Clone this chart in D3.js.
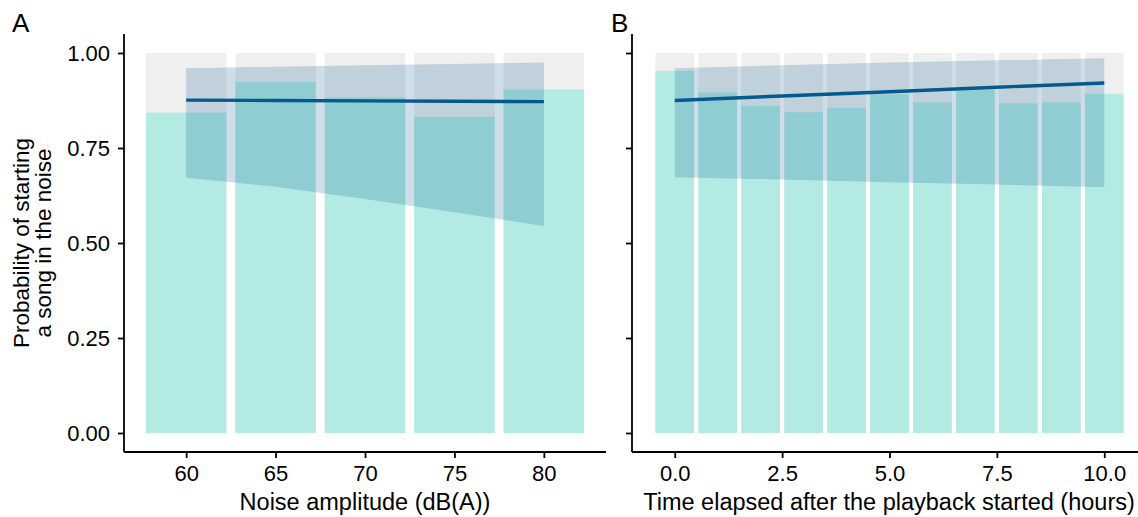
<!DOCTYPE html>
<html>
<head>
<meta charset="utf-8">
<script src="https://d3js.org/d3.v7.min.js"></script>
<style>
  body { margin: 0; background: #fff; }
  text { font-family: "Liberation Sans", Arial, sans-serif; fill: #000; }
</style>
</head>
<body>
<script>

var width = 1138
var height = 517

// panel A : noise amplitude
var noiseLevels = [60, 65, 70, 75, 80]
var noiseProp = [0.843, 0.924, 0.883, 0.832, 0.904]
var noiseFitX = [60, 65, 70, 75, 80]
var noiseFit = [0.876, 0.875, 0.874, 0.873, 0.872]
var noiseLower = [0.672, 0.648, 0.616, 0.581, 0.545]
var noiseUpper = [0.960, 0.964, 0.968, 0.971, 0.975]
var noiseTicks = [60, 65, 70, 75, 80]

// panel B : hours since playback started
var hours = [0, 1, 2, 3, 4, 5, 6, 7, 8, 9, 10]
var hourProp = [0.953, 0.896, 0.861, 0.844, 0.856, 0.891, 0.870, 0.903, 0.868, 0.870, 0.892]
var hourFitX = [0, 2.5, 5, 7.5, 10]
var hourFit = [0.875, 0.887, 0.898, 0.910, 0.921]
var hourLower = [0.673, 0.667, 0.660, 0.654, 0.647]
var hourUpper = [0.960, 0.968, 0.975, 0.981, 0.986]
var hourTicks = [0, 2.5, 5, 7.5, 10]

var yTicks = [0, 0.25, 0.5, 0.75, 1]

var barCol = "#b3eae4"
var bgCol = "#efefef"
var fitCol = "#045a8d"

var svg = d3.select('body').append('svg')
	.attr('width', width)
	.attr('height', height)

var y = d3.scaleLinear().domain([-0.05, 1.05]).range([452, 34])

function panel(opts) {
	var x = d3.scaleLinear().domain(opts.domain).range(opts.range)
	var g = svg.append("g")
	var bw = opts.barWidth

	var rows = opts.cats.map(function(c, i) { return {x: c, p: opts.prop[i]} })

	// grey "total" bars
	g.selectAll(".bg").data(rows).enter().append("rect")
		.attr("x", function(d) { return x(d.x - bw / 2) })
		.attr("width", function(d) { return x(d.x + bw / 2) - x(d.x - bw / 2) })
		.attr("y", y(1))
		.attr("height", y(0) - y(1))
		.style("fill", bgCol)

	g.selectAll(".bar").data(rows).enter().append("rect")
		.attr("x", function(d) { return x(d.x - bw / 2) })
		.attr("width", function(d) { return x(d.x + bw / 2) - x(d.x - bw / 2) })
		.attr("y", function(d) { return y(d.p) })
		.attr("height", function(d) { return y(0) - y(d.p) })
		.style("fill", barCol)

	var fit = opts.fitX.map(function(v, i) {
		return {x: v, f: opts.fit[i], lo: opts.lower[i], hi: opts.upper[i]}
	})

	g.append("path").datum(fit)
		.attr("d", d3.area()
			.x(function(d) { return x(d.x) })
			.y0(function(d) { return y(d.lo) })
			.y1(function(d) { return y(d.hi) }))
		.style("fill", fitCol)
		.style("fill-opacity", 0.2)

	g.append("path").datum(fit)
		.attr("d", d3.line()
			.x(function(d) { return x(d.x) })
			.y(function(d) { return y(d.f) }))
		.style("fill", "none")
		.style("stroke", fitCol)
		.style("stroke-width", 3.4)

	// axes
	var xAxis = g.append("g")
		.attr("transform", "translate(0," + 452 + ")")
		.call(d3.axisBottom(x).tickValues(opts.ticks).tickFormat(opts.fmt).tickSize(6).tickPadding(7))
	var yAxis = g.append("g")
		.attr("transform", "translate(" + opts.range[0] + ",0)")
		.call(d3.axisLeft(y).tickValues(yTicks).tickSize(6).tickPadding(8)
			.tickFormat(opts.yLabels ? d3.format(".2f") : ""))

	;[xAxis, yAxis].forEach(function(a) {
		a.select(".domain").attr("stroke", "#000").attr("stroke-width", 1.8)
		a.selectAll(".tick line").attr("stroke", "#000").attr("stroke-width", 1.8)
		a.selectAll(".tick text").style("font-size", "22px").style("fill", "#000")
			.attr("font-family", null)
	})
	xAxis.select(".domain").attr("d", "M" + opts.range[0] + ",0H" + opts.range[1])
	yAxis.select(".domain").attr("d", "M0," + y(-0.05) + "V" + y(1.05))

	g.append("text")
		.attr("x", opts.titleX)
		.attr("y", 510)
		.attr("text-anchor", "middle")
		.style("font-size", "23.5px")
		.text(opts.title)

	g.append("text")
		.attr("x", opts.letterX)
		.attr("y", 32)
		.style("font-size", "26px")
		.text(opts.letter)
}

panel({
	cats: noiseLevels, prop: noiseProp, fitX: noiseFitX, fit: noiseFit,
	lower: noiseLower, upper: noiseUpper, ticks: noiseTicks,
	domain: [56.525, 83.475], range: [124, 606], barWidth: 4.5,
	fmt: d3.format("d"), yLabels: true, titleX: 365,
	title: "Noise amplitude (dB(A))", letter: "A", letterX: 12
})

panel({
	cats: hours, prop: hourProp, fitX: hourFitX, fit: hourFit,
	lower: hourLower, upper: hourUpper, ticks: hourTicks,
	domain: [-0.995, 10.995], range: [632, 1147], barWidth: 0.9,
	fmt: d3.format(".1f"), yLabels: false, titleX: 889,
	title: "Time elapsed after the playback started (hours)", letter: "B", letterX: 611
})

// y axis title, two lines
var yt = svg.append("text")
	.attr("transform", "translate(0," + y(0.5) + ") rotate(-90)")
	.attr("text-anchor", "middle")
	.style("font-size", "22.5px")
yt.append("tspan").attr("x", 0).attr("y", 29).text("Probability of starting")
yt.append("tspan").attr("x", 0).attr("y", 51).text("a song in the noise")

</script>
</body>
</html>
